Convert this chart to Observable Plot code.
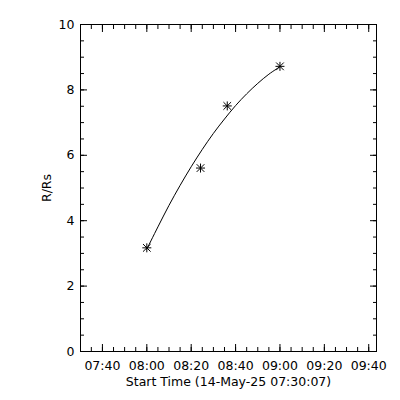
<!DOCTYPE html>
<html><head><meta charset="utf-8">
<script src="https://cdn.jsdelivr.net/npm/d3@7"></script>
<script src="https://cdn.jsdelivr.net/npm/@observablehq/plot@0.6"></script>
<style>html,body{margin:0;padding:0;background:#fff}</style>
</head><body><div id="chart"></div>
<script>
// ---- data ----
const day = "2025-05-14";
const obsTimes = ["08:00:00", "08:24:12", "08:36:15", "09:00:00"];
const obsHeights = [3.17, 5.61, 7.51, 8.72];
const fitTimes = ["08:00", "08:05", "08:10", "08:15", "08:20", "08:25", "08:30", "08:35", "08:40", "08:45", "08:50", "08:55", "09:00"];
const fitHeights = [3.13, 3.81, 4.47, 5.08, 5.65, 6.18, 6.67, 7.11, 7.52, 7.88, 8.20, 8.48, 8.71];
const xTickLabels = ["07:40", "08:00", "08:20", "08:40", "09:00", "09:20", "09:40"];
const yTickLabels = [0, 2, 4, 6, 8, 10];
const xDomain = ["07:30:07", "09:43:30"];
const yDomain = [0, 10];
const xTitle = "Start Time (14-May-25 07:30:07)";
const yTitle = "R/Rs";

const t = s => new Date(`${day}T${s.length === 5 ? s + ":00" : s}Z`);
const obs = obsTimes.map((s, i) => ({time: t(s), r: obsHeights[i]}));
const fit = fitTimes.map((s, i) => ({time: t(s), r: fitHeights[i]}));
const xMajor = xTickLabels.map(t);
const xMinor = d3.utcMinute.every(5).range(t(xDomain[0]), t(xDomain[1]));
const yMinor = d3.range(0, 10.001, 0.5);
const fmt = d3.utcFormat("%H:%M");

const asterisk = {
  draw(ctx, size) {
    const r = Math.sqrt(size / Math.PI), d = r * 0.85;
    ctx.moveTo(-r, 0); ctx.lineTo(r, 0);
    ctx.moveTo(0, -r); ctx.lineTo(0, r);
    ctx.moveTo(-d, -d); ctx.lineTo(d, d);
    ctx.moveTo(-d, d); ctx.lineTo(d, -d);
  }
};
const blank = () => "";

const chart = Plot.plot({
  width: 400, height: 400,
  marginLeft: 80, marginRight: 24, marginTop: 24, marginBottom: 49,
  style: {fontFamily: "DejaVu Sans", fontSize: "12.5px", color: "black", background: "white", overflow: "visible"},
  x: {type: "utc", domain: xDomain.map(t)},
  y: {domain: yDomain},
  marks: [
    Plot.frame({stroke: "black", strokeWidth: 1}),
    // labels
    Plot.axisX({anchor: "bottom", ticks: xMajor, tickSize: 0, tickPadding: 10, tickFormat: fmt,
      label: xTitle, labelAnchor: "center", labelOffset: 34, labelArrow: "none"}),
    Plot.axisY({anchor: "left", ticks: yTickLabels, tickSize: 0, tickPadding: 6, tickFormat: d => String(d),
      label: yTitle, labelAnchor: "center", labelOffset: 38, labelArrow: "none"}),
    // inward ticks, all four sides
    Plot.axisX({anchor: "bottom", ticks: xMajor, tickSize: -7, tickFormat: blank, label: null}),
    Plot.axisX({anchor: "bottom", ticks: xMinor, tickSize: -4, tickFormat: blank, label: null}),
    Plot.axisX({anchor: "top", ticks: xMajor, tickSize: -7, tickFormat: blank, label: null}),
    Plot.axisX({anchor: "top", ticks: xMinor, tickSize: -4, tickFormat: blank, label: null}),
    Plot.axisY({anchor: "left", ticks: yTickLabels, tickSize: -7, tickFormat: blank, label: null}),
    Plot.axisY({anchor: "left", ticks: yMinor, tickSize: -4, tickFormat: blank, label: null}),
    Plot.axisY({anchor: "right", ticks: yTickLabels, tickSize: -7, tickFormat: blank, label: null}),
    Plot.axisY({anchor: "right", ticks: yMinor, tickSize: -4, tickFormat: blank, label: null}),
    Plot.line(fit, {x: "time", y: "r", stroke: "black", strokeWidth: 1, curve: "catmull-rom"}),
    Plot.dot(obs, {x: "time", y: "r", symbol: asterisk, r: 4.5, stroke: "black", fill: "none", strokeWidth: 1})
  ]
});
document.getElementById("chart").appendChild(chart);
</script>
</body></html>
